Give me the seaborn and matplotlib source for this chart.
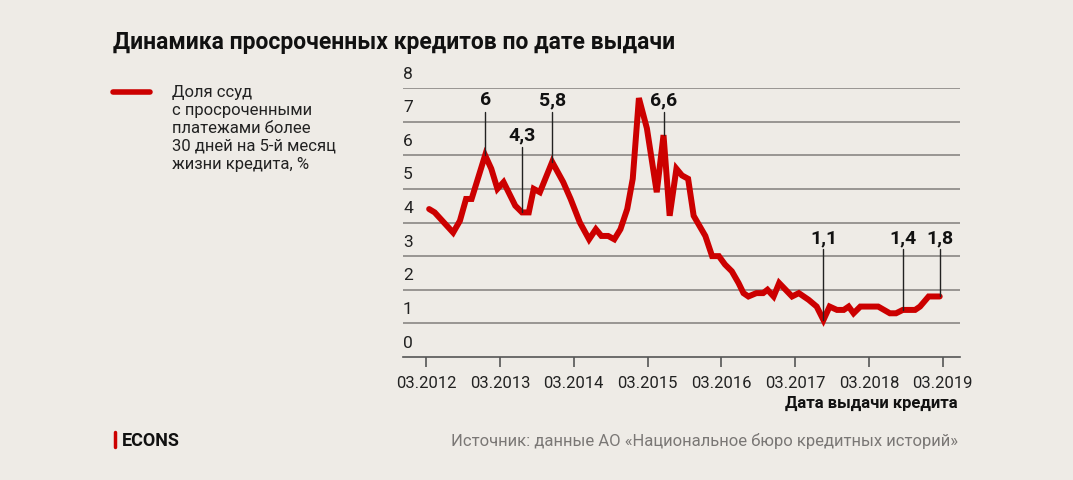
import numpy as np
import pandas as pd
import matplotlib
matplotlib.use("Agg")
import matplotlib.pyplot as plt
import seaborn as sns

# months since 03.2012 and share of overdue loans, %
months = [0.5, 1.4, 4.4, 5.5, 6.5, 7.4, 9.6, 10.6, 11.6, 12.6, 14.5, 15.6, 16.7, 17.5, 18.5, 20.5, 22.3, 23.5, 25.0, 26.5,
          27.6, 28.5, 29.6, 30.6, 31.6, 32.7, 33.6, 34.6, 35.9, 37.5, 38.6, 39.6, 40.7, 41.6, 42.6, 43.5, 45.4, 46.5, 47.6, 48.6,
          49.7, 50.8, 51.6, 52.4, 53.7, 54.8, 55.5, 56.5, 57.4, 59.5, 60.6, 62.2, 63.5, 64.6, 65.6, 66.8, 67.9, 68.7, 69.5, 70.6,
          73.5, 75.4, 76.4, 77.5, 79.5, 80.3, 81.7, 83.5]
values = [4.4, 4.3, 3.7, 4.05, 4.7, 4.7, 6.0, 5.6, 5.0, 5.2, 4.5, 4.3, 4.3, 5.0, 4.9, 5.8, 5.2, 4.7, 4.0, 3.5,
          3.8, 3.6, 3.6, 3.5, 3.8, 4.4, 5.3, 7.7, 6.8, 4.9, 6.6, 4.2, 5.6, 5.4, 5.3, 4.2, 3.6, 3.0, 3.0, 2.75,
          2.55, 2.2, 1.9, 1.8, 1.9, 1.9, 2.0, 1.8, 2.2, 1.8, 1.9, 1.7, 1.5, 1.1, 1.5, 1.4, 1.4, 1.5, 1.3, 1.5,
          1.5, 1.3, 1.3, 1.4, 1.4, 1.5, 1.8, 1.8]

tick_months = [0, 12, 24, 36, 48, 60, 72, 84]
tick_labels = ["03.2012", "03.2013", "03.2014", "03.2015", "03.2016", "03.2017", "03.2018", "03.2019"]

# annotations: month, value, label text, label height (data units)
ann_months = [9.6, 15.6, 20.5, 38.6, 64.6, 77.5, 83.5]
ann_values = [6.0, 4.3, 5.8, 6.6, 1.1, 1.4, 1.8]
ann_texts = ["6", "4,3", "5,8", "6,6", "1,1", "1,4", "1,8"]
ann_heights = [7.3, 6.25, 7.3, 7.3, 3.2, 3.2, 3.2]

BG = "#EEEBE6"
RED = "#CC0000"

sns.set_theme(style="white")
plt.rcParams["font.family"] = ["Roboto", "DejaVu Sans"]

fig = plt.figure(figsize=(10.73, 4.81), dpi=100, facecolor=BG)
ax = fig.add_axes([403 / 1073, (481 - 358) / 481, (960 - 403) / 1073, (358 - 89) / 481])
ax.set_facecolor(BG)

df = pd.DataFrame({"month": months, "value": values})
sns.lineplot(data=df, x="month", y="value", color=RED, linewidth=4.3, ax=ax,
             solid_joinstyle="miter", zorder=3)

ax.set_xlim(-3.75, 86.8)
ax.set_ylim(0, 8)
for v in range(1, 9):
    ax.axhline(v, color="#8a8784", linewidth=1.2, zorder=1)
    ax.text(-3.75, v + 0.22, str(v), fontsize=12.5, color="#222222", ha="left", va="bottom")
ax.text(-3.75, 0.22, "0", fontsize=12.5, color="#222222", ha="left", va="bottom")

for s in ["top", "right", "left"]:
    ax.spines[s].set_visible(False)
ax.spines["bottom"].set_color("#555555")
ax.spines["bottom"].set_linewidth(1.2)
ax.set_yticks([])
ax.set_xticks(tick_months)
ax.set_xticklabels(tick_labels, fontsize=12, color="#222222")
ax.tick_params(axis="x", direction="out", length=7, width=1.2, color="#555555", pad=6, bottom=True)
ax.set_xlabel("")
ax.set_ylabel("")

for m, v, t, h in zip(ann_months, ann_values, ann_texts, ann_heights):
    ax.plot([m, m], [v, h], color="#222222", linewidth=1, zorder=4)
    ax.text(m, h + 0.1, t, fontsize=14, fontweight="semibold", color="#111111", ha="center", va="bottom")

fig.text(113 / 1073, 1 - 42 / 481, "Динамика просроченных кредитов по дате выдачи",
         fontsize=16.5, fontweight="bold", color="#111111", va="center")
fig.add_artist(plt.Line2D([113 / 1073, 150 / 1073], [1 - 93 / 481] * 2, color=RED, linewidth=4))
fig.text(172 / 1073, 1 - 85 / 481,
         "Доля ссуд\nс просроченными\nплатежами более\n30 дней на 5-й месяц\nжизни кредита, %",
         fontsize=12, color="#222222", va="top", linespacing=1.25)
fig.text(958 / 1073, 1 - 403 / 481, "Дата выдачи кредита", fontsize=12, fontweight="bold",
         color="#111111", ha="right", va="center")
fig.add_artist(plt.Line2D([114.5 / 1073] * 2, [1 - 433 / 481, 1 - 448 / 481], color=RED, linewidth=2.5))
fig.text(122 / 1073, 1 - 441 / 481, "ECONS", fontsize=13, fontweight="bold", color="#111111", va="center")
fig.text(958 / 1073, 1 - 441 / 481, "Источник: данные АО «Национальное бюро кредитных историй»",
         fontsize=12, color="#7a7775", ha="right", va="center")

fig.savefig("out.png", dpi=100, facecolor=BG)
